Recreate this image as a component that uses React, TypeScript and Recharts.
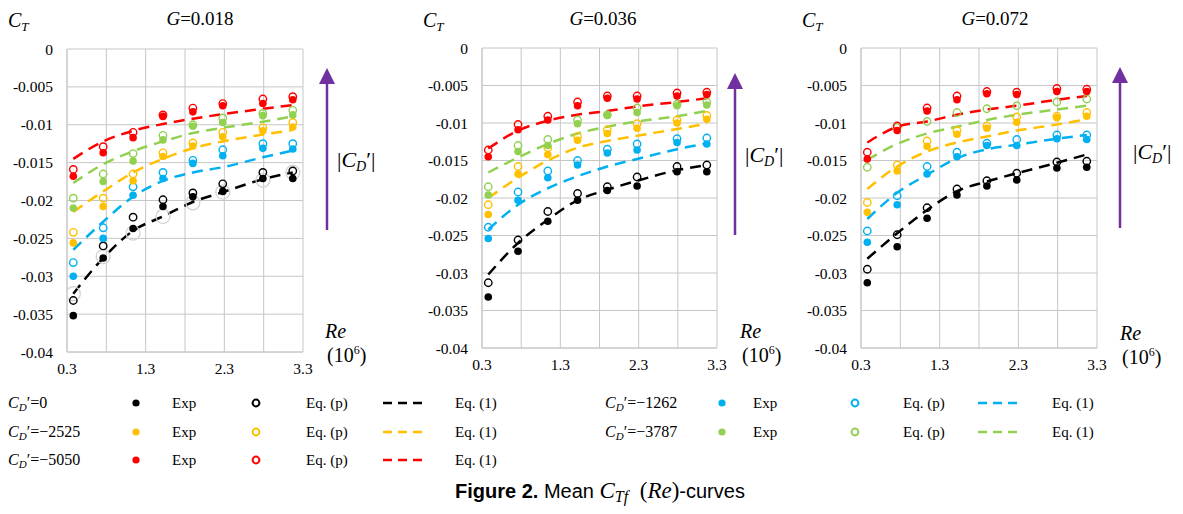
import React from 'react';
import { ComposedChart, Scatter, Line, XAxis, YAxis, CartesianGrid } from 'recharts';

const SERIF = '"Liberation Serif", "Times New Roman", serif';
const SANS = '"Liberation Sans", Arial, sans-serif';

// Reynolds numbers (10^6) of the measurement points
const RE = [0.38, 0.76, 1.14, 1.52, 1.9, 2.28, 2.79, 3.17];

const X_TICKS = [0.3, 0.8, 1.3, 1.8, 2.3, 2.8, 3.3];
const X_TICK_LABELS = ['0.3', '', '1.3', '', '2.3', '', '3.3'];
const Y_TICKS = [-0.04, -0.035, -0.03, -0.025, -0.02, -0.015, -0.01, -0.005, 0];
const Y_TICK_LABELS = ['-0.04', '-0.035', '-0.03', '-0.025', '-0.02', '-0.015', '-0.01', '-0.005', '0'];

const PANEL_TITLES = ['0.018', '0.036', '0.072'];
// series order: C_D' = 0, -1262, -2525, -3787, -5050
const CD_LABELS = ['0', '\u22121262', '\u22122525', '\u22123787', '\u22125050'];
const SERIES_COLORS = ['#000000', '#00B0F0', '#FFC000', '#92D050', '#FF0000'];

// ---------- G = 0.018 ----------
const G018_EXP = [
  [-0.0352, -0.0276, -0.0237, -0.0208, -0.0195, -0.0188, -0.0171, -0.0171],
  [-0.0300, -0.0250, -0.0193, -0.0171, -0.0151, -0.0141, -0.0131, -0.0132],
  [-0.0256, -0.0208, -0.0174, -0.0142, -0.0128, -0.0116, -0.0108, -0.0103],
  [-0.0210, -0.0175, -0.0148, -0.0120, -0.0102, -0.0097, -0.0088, -0.0087],
  [-0.0168, -0.0137, -0.0117, -0.0089, -0.0083, -0.0075, -0.0072, -0.0067],
];
const G018_EQP = [
  [-0.0332, -0.0260, -0.0222, -0.0199, -0.0190, -0.0178, -0.0163, -0.0161],
  [-0.0282, -0.0236, -0.0182, -0.0163, -0.0147, -0.0133, -0.0125, -0.0125],
  [-0.0242, -0.0197, -0.0165, -0.0137, -0.0124, -0.0110, -0.0104, -0.0097],
  [-0.0197, -0.0165, -0.0138, -0.0114, -0.0100, -0.0091, -0.0085, -0.0081],
  [-0.0159, -0.0129, -0.0110, -0.0087, -0.0078, -0.0072, -0.0066, -0.0063],
];
const G018_EQ1 = [
  [-0.0323, -0.0276, -0.0240, -0.0221, -0.0202, -0.0189, -0.0172, -0.0163],
  [-0.0265, -0.0228, -0.0195, -0.0174, -0.0163, -0.0156, -0.0143, -0.0134],
  [-0.0215, -0.0188, -0.0163, -0.0145, -0.0131, -0.0122, -0.0113, -0.0107],
  [-0.0177, -0.0152, -0.0135, -0.0122, -0.0111, -0.0104, -0.0096, -0.0089],
  [-0.0145, -0.0122, -0.0108, -0.0099, -0.0092, -0.0086, -0.0079, -0.0074],
];
const G018_GRAY = [-0.0323, -0.0274, -0.0243, -0.0221, -0.0203, -0.0189, -0.0173, -0.0163];

// ---------- G = 0.036 ----------
const G036_EXP = [
  [-0.0332, -0.0271, -0.0231, -0.0203, -0.0190, -0.0184, -0.0165, -0.0165],
  [-0.0254, -0.0203, -0.0173, -0.0156, -0.0140, -0.0136, -0.0126, -0.0128],
  [-0.0222, -0.0168, -0.0142, -0.0123, -0.0114, -0.0107, -0.0100, -0.0095],
  [-0.0196, -0.0138, -0.0130, -0.0101, -0.0090, -0.0086, -0.0077, -0.0076],
  [-0.0145, -0.0109, -0.0096, -0.0077, -0.0067, -0.0068, -0.0064, -0.0062],
];
const G036_EQP = [
  [-0.0313, -0.0256, -0.0218, -0.0194, -0.0185, -0.0172, -0.0158, -0.0156],
  [-0.0239, -0.0192, -0.0164, -0.0150, -0.0135, -0.0128, -0.0121, -0.0120],
  [-0.0209, -0.0158, -0.0133, -0.0118, -0.0109, -0.0101, -0.0096, -0.0090],
  [-0.0185, -0.0130, -0.0122, -0.0096, -0.0089, -0.0080, -0.0075, -0.0072],
  [-0.0136, -0.0102, -0.0091, -0.0072, -0.0064, -0.0064, -0.0060, -0.0059],
];
const G036_EQ1 = [
  [-0.0302, -0.0260, -0.0229, -0.0203, -0.0189, -0.0177, -0.0163, -0.0156],
  [-0.0242, -0.0209, -0.0187, -0.0171, -0.0158, -0.0148, -0.0135, -0.0127],
  [-0.0200, -0.0173, -0.0150, -0.0133, -0.0124, -0.0117, -0.0108, -0.0101],
  [-0.0166, -0.0146, -0.0128, -0.0114, -0.0105, -0.0098, -0.0091, -0.0084],
  [-0.0134, -0.0110, -0.0097, -0.0089, -0.0084, -0.0078, -0.0072, -0.0067],
];

// ---------- G = 0.072 ----------
const G072_EXP = [
  [-0.0313, -0.0265, -0.0227, -0.0196, -0.0184, -0.0176, -0.0160, -0.0159],
  [-0.0259, -0.0209, -0.0168, -0.0145, -0.0130, -0.0130, -0.0121, -0.0122],
  [-0.0219, -0.0164, -0.0131, -0.0115, -0.0107, -0.0099, -0.0093, -0.0091],
  [null, null, null, null, null, null, null, null],
  [-0.0148, -0.0110, -0.0084, -0.0069, -0.0061, -0.0062, -0.0058, -0.0058],
];
const G072_EQP = [
  [-0.0295, -0.0249, -0.0213, -0.0188, -0.0177, -0.0167, -0.0152, -0.0151],
  [-0.0244, -0.0197, -0.0158, -0.0139, -0.0127, -0.0122, -0.0116, -0.0116],
  [-0.0206, -0.0156, -0.0124, -0.0110, -0.0104, -0.0092, -0.0091, -0.0086],
  [-0.0159, -0.0106, -0.0098, -0.0086, -0.0081, -0.0077, -0.0072, -0.0068],
  [-0.0139, -0.0104, -0.0080, -0.0064, -0.0058, -0.0059, -0.0054, -0.0055],
];
const G072_EQ1 = [
  [-0.0281, -0.0247, -0.0216, -0.0191, -0.0178, -0.0167, -0.0153, -0.0142],
  [-0.0228, -0.0193, -0.0169, -0.0147, -0.0135, -0.0129, -0.0121, -0.0116],
  [-0.0188, -0.0158, -0.0138, -0.0126, -0.0118, -0.0110, -0.0102, -0.0095],
  [-0.0149, -0.0128, -0.0114, -0.0105, -0.0096, -0.0089, -0.0082, -0.0077],
  [-0.0126, -0.0105, -0.0098, -0.0089, -0.0082, -0.0077, -0.0069, -0.0064],
];

const toPts = (vals: (number | null)[]) =>
  RE.map((x, i) => ({ x, y: vals[i] })).filter((p) => p.y !== null);

const fx = (v: number) => {
  const i = X_TICKS.findIndex((t) => Math.abs(t - v) < 1e-9);
  return i >= 0 ? X_TICK_LABELS[i] : '';
};
const fy = (v: number) => {
  const i = Y_TICKS.findIndex((t) => Math.abs(t - v) < 1e-9);
  return i >= 0 ? Y_TICK_LABELS[i] : String(v);
};

const GRID = '#C6C6C6';
const DASH = '11 7';

const FilledDot = (color: string) => (p: any) =>
  p.cx == null ? null : <circle cx={p.cx} cy={p.cy} r={3.8} fill={color} />;
const OpenDot = (color: string) => (p: any) =>
  p.cx == null ? null : <circle cx={p.cx} cy={p.cy} r={3.7} fill="none" stroke={color} strokeWidth={1.4} />;
const GrayDot = (p: any) =>
  p.cx == null ? null : <circle cx={p.cx} cy={p.cy} r={7} fill="none" stroke="#D2D2D2" strokeWidth={1.3} />;

type PanelCfg = {
  left: number; top: number; w: number; h: number;
  exp: (number | null)[][]; eqp: number[][]; eq1: number[][]; gray?: number[];
};

const PANELS: PanelCfg[] = [
  { left: 67, top: 49, w: 236, h: 303, exp: G018_EXP, eqp: G018_EQP, eq1: G018_EQ1, gray: G018_GRAY },
  { left: 482, top: 48, w: 235, h: 300, exp: G036_EXP, eqp: G036_EQP, eq1: G036_EQ1 },
  { left: 861, top: 48, w: 236, h: 300, exp: G072_EXP, eqp: G072_EQP, eq1: G072_EQ1 },
];

function Panel({ cfg }: { cfg: PanelCfg }) {
  const W = cfg.w + 70;
  const H = cfg.h + 40;
  const series: React.ReactNode[] = [];
  if (cfg.gray) {
    series.push(
      <Scatter key="gray" name="gray" data={toPts(cfg.gray)} shape={GrayDot} isAnimationActive={false} />
    );
  }
  SERIES_COLORS.forEach((c, k) => {
    series.push(
      <Scatter key={`o${k}`} name={`eqp${k}`} data={toPts(cfg.eqp[k])} shape={OpenDot(c)} isAnimationActive={false} />
    );
    series.push(
      <Scatter key={`f${k}`} name={`exp${k}`} data={toPts(cfg.exp[k])} shape={FilledDot(c)} isAnimationActive={false} />
    );
    series.push(
      <Line
        key={`l${k}`}
        name={`eq1${k}`}
        data={toPts(cfg.eq1[k])}
        dataKey="y"
        type="monotone"
        stroke={c}
        strokeWidth={2.5}
        strokeDasharray={DASH}
        dot={false}
        activeDot={false}
        isAnimationActive={false}
      />
    );
  });
  return (
    <div style={{ position: 'absolute', left: cfg.left - 60, top: cfg.top - 10 }}>
      <ComposedChart width={W} height={H} margin={{ top: 10, right: 10, bottom: 0, left: 0 }}>
        <CartesianGrid stroke={GRID} strokeWidth={1} />
        <XAxis
          dataKey="x"
          type="number"
          domain={[0.3, 3.3]}
          ticks={X_TICKS}
          interval={0}
          tickFormatter={fx}
          tickSize={0}
          tickMargin={11}
          height={30}
          allowDataOverflow
          axisLine={{ stroke: GRID }}
          tick={{ fill: '#000', fontSize: 15.5, fontFamily: SERIF }}
        />
        <YAxis
          dataKey="y"
          type="number"
          domain={[-0.04, 0]}
          ticks={Y_TICKS}
          interval={0}
          tickFormatter={fy}
          tickSize={0}
          tickMargin={14}
          width={60}
          allowDataOverflow
          axisLine={{ stroke: GRID }}
          tick={{ fill: '#000', fontSize: 15.5, fontFamily: SERIF }}
        />
        {series}
      </ComposedChart>
    </div>
  );
}

const PURPLE = '#7030A0';

function Arrow({ x, top, bottom }: { x: number; top: number; bottom: number }) {
  return (
    <g>
      <line x1={x} y1={bottom} x2={x} y2={top + 14} stroke={PURPLE} strokeWidth={2.5} />
      <polygon points={`${x},${top} ${x - 8},${top + 16} ${x + 8},${top + 16}`} fill={PURPLE} />
    </g>
  );
}

function CDAbs({ x, y }: { x: number; y: number }) {
  return (
    <text x={x} y={y} fontFamily={SERIF} fontSize={22} fill="#000">
      |<tspan fontStyle="italic">C</tspan>
      <tspan fontStyle="italic" fontSize={14} dy={4}>D</tspan>
      <tspan dy={-4}>{'\u2032'}</tspan>|
    </text>
  );
}

function ReLabel({ x, y }: { x: number; y: number }) {
  return (
    <g>
      <text x={x} y={y} fontFamily={SERIF} fontStyle="italic" fontSize={20} fill="#000">Re</text>
      <text x={x + 2} y={y + 24} fontFamily={SERIF} fontSize={20} fill="#000">
        (10<tspan fontSize={12} dy={-8}>6</tspan><tspan dy={8}>)</tspan>
      </text>
    </g>
  );
}

function CT({ x, y }: { x: number; y: number }) {
  return (
    <text x={x} y={y} fontFamily={SERIF} fontSize={20} fill="#000">
      <tspan fontStyle="italic">C</tspan>
      <tspan fontStyle="italic" fontSize={13} dy={4}>T</tspan>
    </text>
  );
}

function CDLabel({ x, y, value }: { x: number; y: number; value: string }) {
  return (
    <text x={x} y={y} fontFamily={SERIF} fontSize={16} fill="#000">
      <tspan fontStyle="italic">C</tspan>
      <tspan fontStyle="italic" fontSize={11} dy={3}>D</tspan>
      <tspan dy={-3}>{'\u2032=' + value}</tspan>
    </text>
  );
}

type LegendCol = { label: number; filled: number; exp: number; open: number; eqp: number; dash: number; eq1: number };
const LEG_COL_A: LegendCol = { label: 8, filled: 136, exp: 172, open: 256, eqp: 306, dash: 383, eq1: 455 };
const LEG_COL_B: LegendCol = { label: 605, filled: 722, exp: 753, open: 855, eqp: 903, dash: 978, eq1: 1052 };
const LEG_ROWS = [403, 432, 460];
// which series goes where in the legend: [seriesIndex, column, row]
const LEGEND_LAYOUT: [number, LegendCol, number][] = [
  [0, LEG_COL_A, 0],
  [2, LEG_COL_A, 1],
  [4, LEG_COL_A, 2],
  [1, LEG_COL_B, 0],
  [3, LEG_COL_B, 1],
];

function LegendRow({ k, col, row }: { k: number; col: LegendCol; row: number }) {
  const y = LEG_ROWS[row];
  const c = SERIES_COLORS[k];
  const t = { fontFamily: SERIF, fontSize: 15, fill: '#000' };
  return (
    <g>
      <CDLabel x={col.label} y={y + 5} value={CD_LABELS[k]} />
      <circle cx={col.filled} cy={y} r={3.6} fill={c} />
      <text x={col.exp} y={y + 5} {...t}>Exp</text>
      <circle cx={col.open} cy={y} r={3.4} fill="none" stroke={c} strokeWidth={2} />
      <text x={col.eqp} y={y + 5} {...t}>Eq. (p)</text>
      <line x1={col.dash} y1={y} x2={col.dash + 40} y2={y} stroke={c} strokeWidth={2.6} strokeDasharray="9 6" />
      <text x={col.eq1} y={y + 5} {...t}>Eq. (1)</text>
    </g>
  );
}

const TITLE_X = [200, 603, 995];
const CT_X = [8, 423, 802];
const ARROWS = [
  { x: 327, top: 68, bottom: 230 },
  { x: 735, top: 73, bottom: 235 },
  { x: 1120, top: 67, bottom: 228 },
];
const CD_ABS = [
  { x: 337, y: 167 },
  { x: 745, y: 162 },
  { x: 1133, y: 159 },
];
const RE_LABELS = [
  { x: 325, y: 338 },
  { x: 740, y: 338 },
  { x: 1120, y: 340 },
];

export default function App() {
  return (
    <div
      style={{
        position: 'absolute',
        left: 0,
        top: 0,
        width: 1183,
        height: 514,
        background: '#fff',
        overflow: 'hidden',
      }}
    >
      {PANELS.map((p, i) => (
        <Panel key={i} cfg={p} />
      ))}
      <svg
        width={1183}
        height={514}
        style={{ position: 'absolute', left: 0, top: 0, pointerEvents: 'none' }}
      >
        {PANEL_TITLES.map((t, i) => (
          <text key={'t' + i} x={TITLE_X[i]} y={25} textAnchor="middle" fontFamily={SERIF} fontSize={19} fill="#000">
            <tspan fontStyle="italic">G</tspan>={t}
          </text>
        ))}
        {CT_X.map((x, i) => (
          <CT key={'c' + i} x={x} y={27} />
        ))}
        {ARROWS.map((a, i) => (
          <Arrow key={'a' + i} {...a} />
        ))}
        {CD_ABS.map((a, i) => (
          <CDAbs key={'d' + i} {...a} />
        ))}
        {RE_LABELS.map((a, i) => (
          <ReLabel key={'r' + i} {...a} />
        ))}
        {LEGEND_LAYOUT.map(([k, col, row]) => (
          <LegendRow key={'l' + k} k={k} col={col} row={row} />
        ))}
        <text x={455} y={498} fontFamily={SANS} fontSize={20} fill="#000">
          <tspan fontWeight="bold">Figure 2.</tspan>
          <tspan> Mean </tspan>
          <tspan fontFamily={SERIF} fontStyle="italic" fontSize={23}>C</tspan>
          <tspan fontFamily={SERIF} fontStyle="italic" fontSize={16} dy={4}>Tf</tspan>
          <tspan dy={-4} fontFamily={SERIF} fontSize={23}>{'\u2002('}</tspan>
          <tspan fontFamily={SERIF} fontStyle="italic" fontSize={23}>Re</tspan>
          <tspan fontFamily={SERIF} fontSize={23}>)</tspan>
          <tspan>-curves</tspan>
        </text>
      </svg>
    </div>
  );
}
